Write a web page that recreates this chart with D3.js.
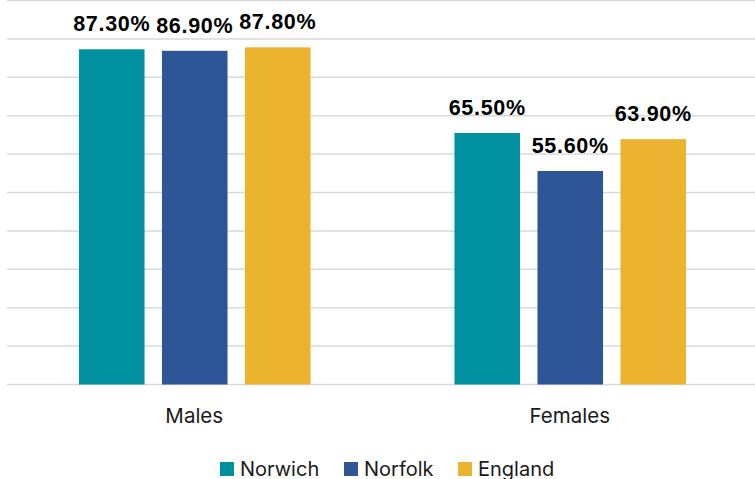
<!DOCTYPE html>
<html>
<head>
<meta charset="utf-8">
<script src="https://cdn.jsdelivr.net/npm/d3@7"></script>
<style>
  html, body { margin: 0; padding: 0; background: #fff; }
  svg { display: block; }
</style>
</head>
<body>
<div id="chart"></div>
<script>
// data
let categories = ['Males', 'Females'];
let series = ['Norwich', 'Norfolk', 'England'];
let norwich = [87.3, 65.5];
let norfolk = [86.9, 55.6];
let england = [87.8, 63.9];
let yTicks = [0, 10, 20, 30, 40, 50, 60, 70, 80, 90, 100];

let colors = ['#0090a0', '#2e5597', '#ecb330'];
let values = [norwich, norfolk, england];

let w = 755;
let h = 479;

let xScale = d3.scaleBand()
               .domain(categories)
               .range([7, 758]);
let xInner = d3.scaleBand()
               .domain(series)
               .range([0, xScale.bandwidth()])
               .paddingInner(0.21)
               .paddingOuter(0.867);
let yScale = d3.scaleLinear()
               .domain([0, 100])
               .range([384.5, 0.5]);

let svg = d3.select('#chart')
            .append('svg')
            .attr('width', w)
            .attr('height', h);

// gridlines
svg.append('g')
   .selectAll('line')
   .data(yTicks)
   .enter()
   .append('line')
   .attr('x1', 7)
   .attr('x2', w)
   .attr('y1', (d) => yScale(d))
   .attr('y2', (d) => yScale(d))
   .attr('stroke', '#d9d9d9')
   .attr('stroke-width', 1.5);

let rows = [];
categories.forEach((c, ci) => {
  series.forEach((s, si) => {
    rows.push({cat: c, ser: s, v: values[si][ci], col: colors[si]});
  });
});

svg.append('g')
   .selectAll('rect')
   .data(rows)
   .enter()
   .append('rect')
   .attr('x', (d) => xScale(d.cat) + xInner(d.ser))
   .attr('y', (d) => yScale(d.v))
   .attr('width', xInner.bandwidth())
   .attr('height', (d) => yScale(0) - yScale(d.v))
   .attr('fill', (d) => d.col);

svg.append('g')
   .selectAll('text')
   .data(rows)
   .enter()
   .append('text')
   .attr('x', (d) => xScale(d.cat) + xInner(d.ser) + xInner.bandwidth() / 2)
   .attr('y', (d) => yScale(d.v) - 18.3)
   .attr('text-anchor', 'middle')
   .style('font-family', '"Liberation Sans", Arial, sans-serif')
   .style('font-weight', 'bold')
   .style('font-size', '21.5px')
   .style('letter-spacing', '0.7px')
   .attr('fill', '#000')
   .text((d) => d.v.toFixed(2) + '%');

// category axis labels
svg.append('g')
   .selectAll('text')
   .data(categories)
   .enter()
   .append('text')
   .attr('x', (d) => xScale(d) + xScale.bandwidth() / 2 - 0.5)
   .attr('y', 423)
   .attr('text-anchor', 'middle')
   .style('font-family', 'Inter, "Noto Sans", sans-serif')
   .style('font-size', '20.5px')
   .attr('fill', '#1a1a1a')
   .text((d) => d);

// legend
let legendX = [220, 344, 458];
let legend = svg.append('g');
legend.selectAll('rect')
      .data(series)
      .enter()
      .append('rect')
      .attr('x', (d, i) => legendX[i])
      .attr('y', 462)
      .attr('width', 14)
      .attr('height', 14)
      .attr('fill', (d, i) => colors[i]);
legend.selectAll('text')
      .data(series)
      .enter()
      .append('text')
      .attr('x', (d, i) => legendX[i] + 20)
      .attr('y', 475.5)
      .style('font-family', 'Inter, "Noto Sans", sans-serif')
      .style('font-size', '20px')
      .attr('fill', '#1a1a1a')
      .text((d) => d);
</script>
</body>
</html>
